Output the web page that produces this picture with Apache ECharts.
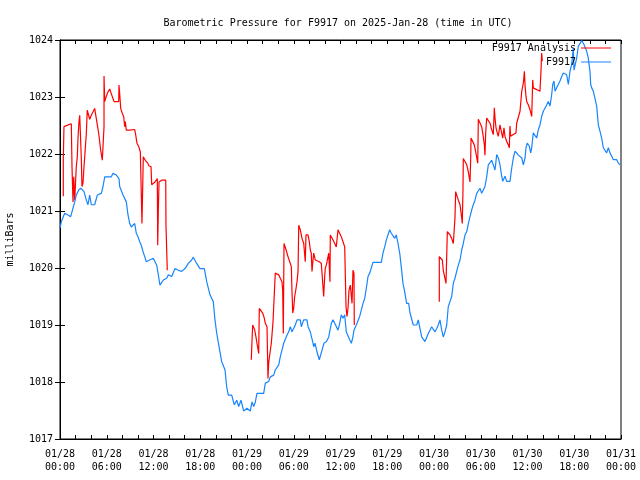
<!DOCTYPE html>
<html>
<head>
<meta charset="utf-8">
<script src="https://cdn.jsdelivr.net/npm/echarts@6/dist/echarts.min.js"></script>
<style>html,body{margin:0;padding:0;background:#fff}#c{width:640px;height:480px}</style>
</head>
<body>
<div id="c"></div>
<script>
// Hours since 2025-01-28 00:00 UTC
const xTickHours = [0, 6, 12, 18, 24, 30, 36, 42, 48, 54, 60, 66, 72];
const yTicks = [1017, 1018, 1019, 1020, 1021, 1022, 1023, 1024];

// F9917 observations
const stationHours = [0,0.17,0.6,1.03,1.37,1.67,1.89,2.09,2.4,2.66,3.08,3.38,3.59,3.81,4.02,4.45,4.79,5.3,5.52,5.74,6.58,6.8,7.23,7.57,7.66,8.09,8.51,8.73,8.95,9.15,9.59,9.79,10.01,10.23,10.43,10.65,10.87,11.08,11.51,11.97,12.41,12.62,12.83,13.26,13.69,13.9,14.34,14.76,15.18,15.62,16.04,16.47,16.9,17.11,17.54,17.97,18.52,18.83,19.25,19.67,19.89,20.11,20.41,20.75,21.18,21.39,21.6,22.04,22.37,22.68,22.93,23.23,23.58,24,24.42,24.64,24.86,25.07,25.28,26.14,26.35,26.78,26.99,27.43,27.63,28.07,28.27,28.49,28.71,29.13,29.35,29.56,29.77,29.99,30.2,30.42,30.84,30.97,31.28,31.7,31.83,32.12,32.43,32.56,32.73,32.98,33.28,33.63,33.88,34.2,34.49,34.61,34.82,35.04,35.26,35.46,35.68,35.9,36.1,36.32,36.54,36.74,36.96,37.18,37.39,37.6,37.73,38.03,38.46,38.67,38.89,39.11,39.31,39.53,39.75,39.95,40.17,41.24,41.45,41.67,41.88,42.1,42.31,42.52,42.74,42.96,43.16,43.38,43.6,43.8,44.02,44.24,44.49,44.75,44.92,45.14,45.34,45.78,45.98,46.2,46.42,46.63,46.84,47.06,47.27,47.7,47.91,48.13,48.35,48.55,48.77,48.99,49.19,49.41,49.63,49.83,50.05,50.27,50.48,50.69,50.91,51.12,51.34,51.56,51.76,51.98,52.2,52.41,52.62,52.84,53.04,53.26,53.48,53.9,54.12,54.33,54.54,54.76,54.97,55.4,55.61,55.83,56.05,56.26,56.47,56.69,56.82,57.11,57.33,57.75,57.97,58.18,58.4,58.62,58.83,59.26,59.47,59.68,59.81,59.97,60.23,60.41,60.54,60.74,61.18,61.39,61.6,61.82,62.03,62.25,62.46,62.67,62.89,63.1,63.24,63.4,63.53,63.75,63.95,64.17,64.39,64.6,64.81,65.03,65.24,65.45,65.67,65.88,65.97,66.31,66.52,66.74,66.96,67.13,67.25,67.6,67.8,68.02,68.11,68.24,68.45,68.66,68.88,69.09,69.3,69.52,69.73,69.94,70.16,70.37,70.59,70.81,71.02,71.45,71.66,71.88];
const stationMbar = [1020.70,1020.81,1020.96,1020.93,1020.90,1021.05,1021.16,1021.28,1021.37,1021.40,1021.34,1021.19,1021.11,1021.28,1021.11,1021.11,1021.28,1021.31,1021.43,1021.60,1021.60,1021.66,1021.63,1021.57,1021.43,1021.28,1021.16,1020.93,1020.78,1020.72,1020.78,1020.61,1020.55,1020.46,1020.40,1020.29,1020.20,1020.11,1020.14,1020.17,1020.05,1019.88,1019.70,1019.79,1019.82,1019.88,1019.85,1019.99,1019.96,1019.94,1019.99,1020.08,1020.14,1020.19,1020.08,1019.99,1019.99,1019.76,1019.53,1019.41,1019.09,1018.86,1018.62,1018.36,1018.21,1017.92,1017.77,1017.77,1017.60,1017.68,1017.57,1017.68,1017.49,1017.54,1017.49,1017.65,1017.57,1017.65,1017.80,1017.80,1017.98,1018.01,1018.09,1018.12,1018.21,1018.30,1018.44,1018.56,1018.68,1018.82,1018.88,1018.97,1018.88,1018.88,1019.00,1019.09,1019.09,1018.97,1019.09,1019.09,1018.97,1018.88,1018.71,1018.62,1018.68,1018.53,1018.39,1018.56,1018.68,1018.71,1018.79,1018.88,1019.03,1019.09,1019.03,1019.00,1018.91,1019.03,1019.18,1019.12,1019.18,1018.88,1018.85,1018.74,1018.68,1018.79,1018.91,1019.00,1019.15,1019.26,1019.38,1019.47,1019.64,1019.85,1019.91,1019.91,1020.10,1020.10,1020.26,1020.37,1020.49,1020.52,1020.67,1020.61,1020.58,1020.52,1020.58,1020.43,1020.26,1020.02,1019.73,1019.58,1019.38,1019.38,1019.21,1019.18,1019.00,1019.00,1019.09,1018.94,1018.79,1018.77,1018.71,1018.68,1018.85,1018.97,1018.94,1018.88,1018.94,1019.00,1019.09,1018.91,1018.79,1018.88,1019.00,1019.32,1019.41,1019.50,1019.73,1019.82,1019.94,1020.05,1020.14,1020.32,1020.43,1020.58,1020.64,1020.78,1020.90,1021.02,1021.11,1021.19,1021.31,1021.40,1021.31,1021.31,1021.43,1021.60,1021.81,1021.89,1021.81,1021.72,1021.99,1021.93,1021.81,1021.61,1021.52,1021.61,1021.52,1021.52,1021.75,1021.93,1022.05,1022.05,1021.98,1021.93,1021.81,1021.93,1022.11,1022.19,1022.14,1022.02,1022.11,1022.37,1022.28,1022.43,1022.51,1022.66,1022.75,1022.72,1022.86,1022.92,1022.84,1023.04,1023.22,1023.28,1023.10,1023.07,1023.22,1023.28,1023.36,1023.42,1023.39,1023.39,1023.22,1023.45,1023.57,1023.86,1023.47,1023.68,1023.89,1023.92,1023.99,1023.99,1023.92,1023.80,1023.68,1023.45,1023.22,1023.16,1023.10,1023.10,1022.84,1022.51,1022.40,1022.28,1022.11,1022.11,1022.02,1022.11,1022.02,1021.96,1021.90,1021.90,1021.84,1021.81];

// F9917 Analysis (null = gap)
const analysisHours = [0.42,0.42,0.51,1.03,1.45,1.54,1.67,1.76,1.89,1.96,2.09,2.22,2.31,2.44,2.53,2.66,2.73,2.82,2.95,3.08,3.17,3.38,3.5,3.68,3.81,4.02,4.24,4.45,4.66,4.79,4.97,5.22,5.43,5.52,5.65,5.65,5.74,5.94,6.16,6.38,6.58,6.93,7.53,7.57,7.66,7.79,8,8.18,8.3,8.38,8.51,8.73,8.95,9.59,9.72,9.88,10.1,10.31,10.43,10.52,10.69,10.95,11.26,11.42,11.68,11.77,12.19,12.49,12.54,12.62,12.71,13.05,13.57,13.6,13.77,
  19,
  24.55,24.64,24.73,24.9,24.99,25.15,25.28,25.5,25.58,25.8,26.01,26.22,26.35,26.57,26.69,26.78,26.91,27.12,27.34,27.5,27.63,28.07,28.27,28.49,28.58,28.66,28.75,28.84,29.01,29.26,29.56,29.69,29.77,29.87,29.99,30.12,30.29,30.42,30.55,30.64,30.76,30.84,31.06,31.28,31.48,31.57,31.83,32,32.12,32.25,32.34,32.43,32.56,32.77,32.98,33.28,33.54,33.75,33.84,33.97,34.05,34.18,34.31,34.4,34.49,34.61,34.65,34.69,34.82,35.04,35.26,35.46,35.68,35.9,36.1,36.32,36.54,36.62,36.71,36.83,36.96,37.09,37.26,37.39,37.48,37.6,37.73,37.77,
  43,
  48.68,48.68,48.9,49.07,49.19,49.41,49.54,49.63,49.71,49.84,50.05,50.27,50.48,50.6,50.69,50.78,50.91,51.12,51.34,51.56,51.63,51.72,51.76,51.98,52.2,52.4,52.62,52.71,52.75,52.97,53.17,53.35,53.61,53.69,53.9,54.12,54.33,54.46,54.54,54.63,54.76,54.97,55.19,55.4,55.61,55.74,55.83,55.96,56.12,56.25,56.47,56.69,56.82,56.98,57.11,57.33,57.54,57.67,57.75,57.84,58.18,58.52,58.61,58.82,59.04,59.26,59.47,59.6,59.69,59.81,59.9,60.11,60.32,60.54,60.67,60.74,61.18,61.6,61.73,61.82,61.9];
const analysisMbar = [1021.26,1021.89,1022.48,1022.51,1022.53,1021.78,1021.16,1021.60,1021.19,1021.40,1021.78,1021.95,1022.28,1022.57,1022.68,1022.68,1021.95,1021.43,1021.49,1021.78,1021.95,1022.36,1022.77,1022.77,1022.61,1022.68,1022.74,1022.80,1022.80,1022.51,1022.36,1022.07,1021.89,1021.92,1022.48,1023.37,1022.92,1023.01,1023.09,1023.14,1023.06,1022.92,1022.92,1023.21,1023.06,1022.80,1022.71,1022.65,1022.48,1022.57,1022.42,1022.39,1022.42,1022.43,1022.33,1022.19,1022.13,1022.04,1022.01,1020.78,1021.95,1021.89,1021.84,1021.79,1021.78,1021.46,1021.51,1021.57,1020.40,1021.02,1021.51,1021.54,1021.54,1020.75,1019.96,
  null,
  1018.39,1018.71,1019.00,1019.00,1018.91,1018.79,1018.68,1018.50,1019.29,1019.29,1019.21,1019.12,1019.03,1018.97,1018.06,1018.33,1018.47,1018.68,1019.06,1019.53,1019.91,1019.88,1019.82,1019.76,1019.61,1018.85,1020.43,1020.46,1020.32,1020.20,1020.08,1020.02,1019.61,1019.21,1019.29,1019.50,1019.64,1019.76,1019.94,1020.75,1020.75,1020.67,1020.52,1020.43,1020.11,1020.58,1020.58,1020.46,1020.32,1020.26,1019.94,1020.08,1020.26,1020.14,1020.17,1020.11,1020.08,1020.05,1019.50,1019.85,1020.00,1020.05,1020.05,1020.20,1020.26,1020.29,1019.76,1020.58,1020.58,1020.49,1020.43,1020.37,1020.67,1020.64,1020.55,1020.46,1020.37,1020.35,1019.32,1019.15,1019.29,1019.61,1019.70,1019.70,1019.38,1019.96,1019.91,1019.00,
  null,
  1019.41,1020.20,1020.20,1020.14,1019.96,1019.82,1019.73,1020.20,1020.64,1020.64,1020.58,1020.52,1020.43,1020.40,1020.87,1021.34,1021.31,1021.19,1021.11,1020.87,1020.78,1021.37,1021.92,1021.89,1021.81,1021.69,1021.51,1021.92,1022.28,1022.28,1022.16,1022.04,1021.84,1022.61,1022.61,1022.48,1022.30,1022.16,1021.98,1022.36,1022.63,1022.63,1022.54,1022.43,1022.34,1022.81,1022.63,1022.46,1022.37,1022.31,1022.51,1022.54,1022.28,1022.46,1022.31,1022.22,1022.16,1022.11,1022.49,1022.31,1022.34,1022.37,1022.54,1022.57,1022.75,1023.10,1023.25,1023.45,1023.19,1023.01,1022.92,1022.86,1022.78,1022.66,1023.30,1023.16,1023.13,1023.10,1023.45,1023.77,1023.63];

const FONT = 'DejaVu Sans Mono';
const pairs = (xs, ys) => xs.map((x, i) => [x, ys[i] === null ? '-' : ys[i]]);
const fmtHour = h => {
  const day = 28 + Math.floor(h / 24);
  const hh = h % 24;
  return '01/' + (day < 10 ? '0' : '') + day + '\n' + (hh < 10 ? '0' : '') + hh + ':00';
};

const chart = echarts.init(document.getElementById('c'), null, {renderer: 'canvas'});
const tickStyle = {show: true, inside: true, length: 4, lineStyle: {color: '#000', width: 1}};
const minorStyle = {show: true, splitNumber: 3, length: 4, lineStyle: {color: '#000', width: 1}};
chart.setOption({
  animation: false,
  backgroundColor: '#fff',
  title: {
    text: 'Barometric Pressure for F9917 on 2025-Jan-28 (time in UTC)',
    left: 333, top: 13, textAlign: 'center',
    textStyle: {fontFamily: FONT, fontSize: 10, fontWeight: 'normal', color: '#000'}
  },
  legend: [
    {data: ['F9917 Analysis'], right: 29, top: 43, padding: 0, align: 'right', itemWidth: 30, itemHeight: 10,
     icon: 'path://M0,4.5 L30,4.5 L30,5.5 L0,5.5 Z',
     textStyle: {fontFamily: FONT, fontSize: 10, color: '#000'}},
    {data: ['F9917'], right: 29, top: 57, padding: 0, align: 'right', itemWidth: 30, itemHeight: 10,
     icon: 'path://M0,4.5 L30,4.5 L30,5.5 L0,5.5 Z',
     textStyle: {fontFamily: FONT, fontSize: 10, color: '#000'}}
  ],
  grid: {left: 60, right: 19, top: 40, bottom: 41, containLabel: false, outerBoundsMode: 'none',
         show: true, borderColor: '#000', borderWidth: 1, backgroundColor: 'transparent'},
  xAxis: [{
    type: 'value', min: xTickHours[0], max: xTickHours[xTickHours.length - 1], interval: 6,
    axisLine: {show: true, lineStyle: {color: '#000', width: 1}},
    axisTick: tickStyle, minorTick: minorStyle,
    splitLine: {show: false},
    axisLabel: {formatter: fmtHour, fontFamily: FONT, fontSize: 10, color: '#000', margin: 9, lineHeight: 13}
  }, {
    type: 'value', position: 'top', min: 0, max: 72, interval: 6,
    axisLine: {show: true, lineStyle: {color: '#000'}},
    axisTick: tickStyle, minorTick: minorStyle,
    splitLine: {show: false}, axisLabel: {show: false}
  }],
  yAxis: [{
    type: 'value', min: yTicks[0], max: yTicks[yTicks.length - 1], interval: 1,
    name: 'milliBars', nameLocation: 'middle', nameGap: 45,
    nameTextStyle: {fontFamily: FONT, fontSize: 10, color: '#000'},
    axisLine: {show: true, lineStyle: {color: '#000'}},
    axisTick: {show: true, inside: true, length: 5, lineStyle: {color: '#000'}},
    splitLine: {show: false},
    axisLabel: {formatter: v => String(v), fontFamily: FONT, fontSize: 10, color: '#000', margin: 7}
  }, {
    type: 'value', position: 'right', min: 1017, max: 1024, interval: 1,
    axisLine: {show: true, lineStyle: {color: '#000'}},
    axisTick: {show: true, inside: true, length: 5, lineStyle: {color: '#000'}},
    splitLine: {show: false}, axisLabel: {show: false}
  }],
  series: [{
    name: 'F9917 Analysis', type: 'line', symbol: 'none', connectNulls: false,
    color: '#ff0000', lineStyle: {color: '#ff0000', width: 1.2},
    data: pairs(analysisHours, analysisMbar)
  }, {
    name: 'F9917', type: 'line', symbol: 'none',
    color: '#1685ff', lineStyle: {color: '#1685ff', width: 1.2},
    data: pairs(stationHours, stationMbar)
  }]
});
</script>
</body>
</html>
